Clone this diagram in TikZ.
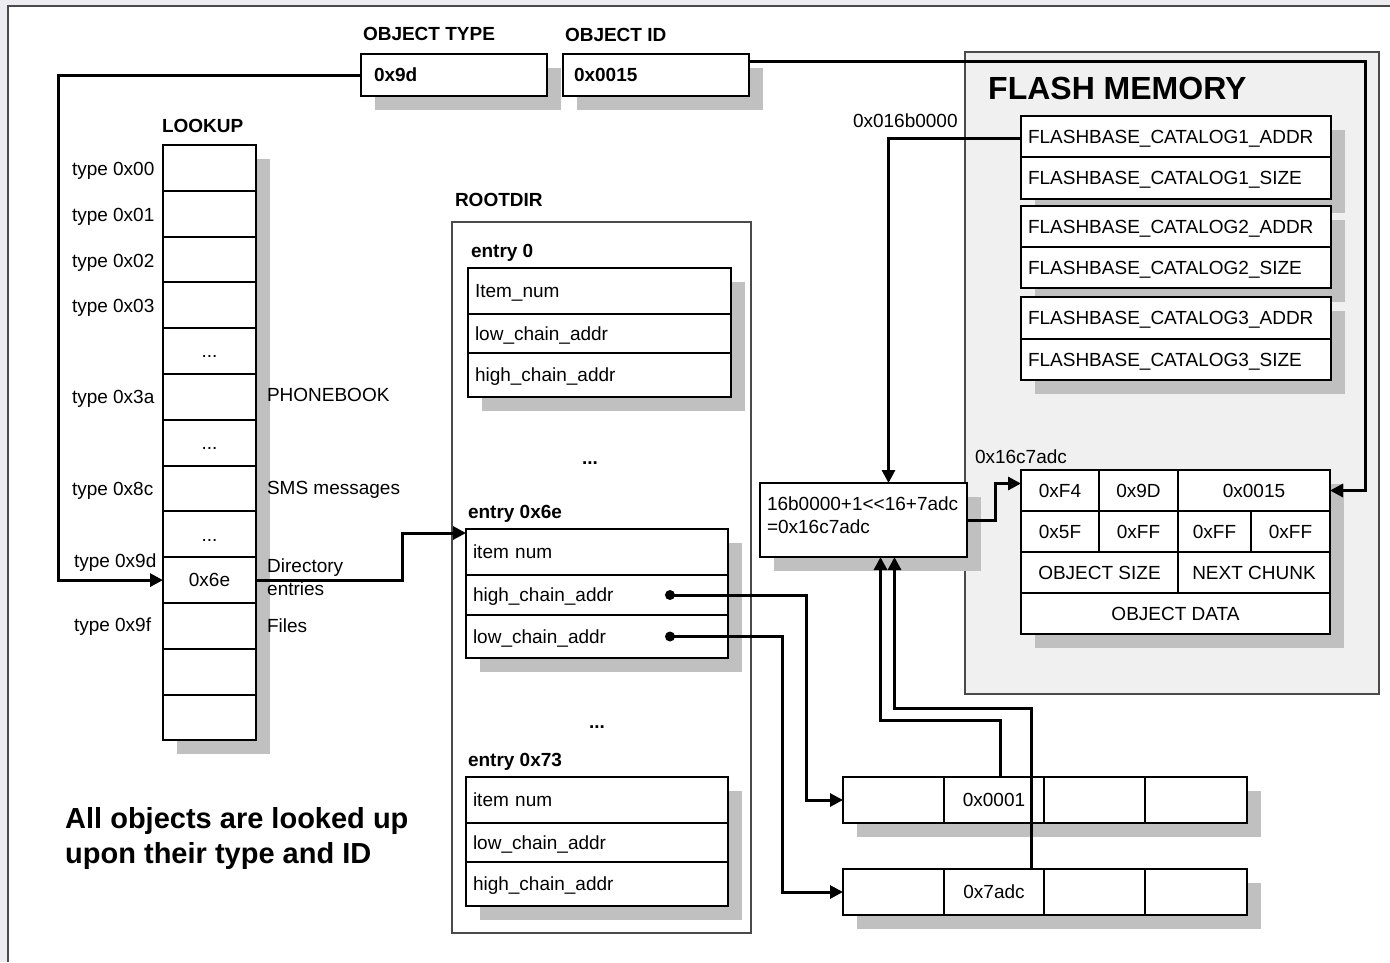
\documentclass[tikz,border=0pt]{standalone}
\usepackage{fontspec}
\setmainfont{Liberation Sans}
\usetikzlibrary{arrows.meta,shadows}
\definecolor{shc}{HTML}{C0C0C0}
\definecolor{panelc}{HTML}{F0F0F0}
\definecolor{bgc}{HTML}{EDEDF1}
\definecolor{framec}{HTML}{4A4A4A}
\begin{document}
\begin{tikzpicture}[x=1pt,y=-1pt,
  ntext/.style={font=\fontsize{19}{23}\selectfont, inner sep=0pt, outer sep=0pt, text height=13.6pt, text depth=0pt},
  bfont/.style={font=\bfseries\fontsize{19}{23}\selectfont},
  btext/.style={ntext, bfont},
  shd/.style={drop shadow={shadow xshift=14pt, shadow yshift=-14pt, fill=shc, opacity=1}},
  cell/.style={draw, line width=2pt, fill=white, anchor=north west, inner sep=0pt, outer sep=0pt, ntext, shd},
  ecell/.style={cell, text width=248pt, inner xsep=7pt, align=left},
  ccell/.style={cell, text width=296pt, inner xsep=7pt, align=left},
  conn/.style={line width=3pt},
  arr/.style={conn, -{Triangle[length=13pt,width=13pt]}},
  dotn/.style={circle, fill=black, inner sep=0pt, minimum size=10pt},
]
\useasboundingbox (0,0) rectangle (1390,962);
% background and frame
\fill[bgc] (0,0) rectangle (1390,962);
\fill[white] (8,6) rectangle (1390,962);
\draw[framec, line width=1.5pt] (8,962) -- (8,6) -- (1390,6);

% flash memory panel and rootdir container
\node[draw=framec, line width=1.3pt, fill=panelc, anchor=north west, inner sep=0pt, outer sep=0pt, minimum width=414pt, minimum height=642pt] (flash) at (965,52) {};
\node[draw=framec, line width=1.3pt, fill=white, anchor=north west, inner sep=0pt, outer sep=0pt, minimum width=299pt, minimum height=711pt] (rootdir) at (452,222) {};

% object type / id
\node[btext, anchor=west] (ottl) at (363,33.5) {OBJECT TYPE};
\node[btext, anchor=west] (oidl) at (565,34.5) {OBJECT ID};
\node[cell, bfont, minimum width=186pt, minimum height=42pt, text width=160pt, inner xsep=13pt, align=left] (typebox) at (361,54) {0x9d};
\node[cell, bfont, minimum width=186pt, minimum height=42pt, text width=164pt, inner xsep=11pt, align=left] (idbox) at (563,54) {0x0015};

% lookup table
\node[btext, anchor=west] (lookupl) at (162,126) {LOOKUP};
\foreach \i/\t in {0/{},1/{},2/{},3/{},4/{...},5/{},6/{...},7/{},8/{...},9/{0x6e},10/{},11/{},12/{}}
  \node[cell, minimum width=93pt, minimum height=45.8pt] (lk\i) at (163,{145+45.8*\i}) {\t};
\node[ntext, anchor=west] (t00) at (72,169) {type 0x00};
\node[ntext, anchor=west] (t01) at (72,215) {type 0x01};
\node[ntext, anchor=west] (t02) at (72,261) {type 0x02};
\node[ntext, anchor=west] (t03) at (72,306) {type 0x03};
\node[ntext, anchor=west] (t3a) at (72,397) {type 0x3a};
\node[ntext, anchor=west] (t8c) at (72,489) {type 0x8c};
\node[ntext, anchor=west] (t9d) at (74,561) {type 0x9d};
\node[ntext, anchor=west] (t9f) at (74,625) {type 0x9f};
\node[ntext, anchor=west] (phone) at (267,395) {PHONEBOOK};
\node[ntext, anchor=west] (sms) at (267,488) {SMS messages};
\node[font=\fontsize{19}{23}\selectfont, align=left, anchor=north west, inner sep=0pt] (dirl) at (267,559) {Directory\\entries};
\node[ntext, anchor=west] (files) at (267,626) {Files};

% rootdir
\node[btext, anchor=west] (rootl) at (455,199.5) {ROOTDIR};
\node[btext, anchor=west] (ent0) at (471,250.5) {entry 0};
\node[ecell, minimum height=46pt, text width=249pt] (e0a) at (468,268) {Item\_num};
\node[ecell, minimum height=39pt, text width=249pt] (e0b) at (468,314) {low\_chain\_addr};
\node[ecell, minimum height=44pt, text width=249pt] (e0c) at (468,353) {high\_chain\_addr};
\node[btext] (dots1) at (590,458) {...};
\node[btext, anchor=west] (ent6e) at (468,511.5) {entry 0x6e};
\node[ecell, minimum height=46pt] (e6a) at (466,529) {item num};
\node[ecell, minimum height=40pt] (e6b) at (466,575) {high\_chain\_addr};
\node[ecell, minimum height=43pt] (e6c) at (466,615) {low\_chain\_addr};
\node[btext] (dots2) at (597,722) {...};
\node[btext, anchor=west] (ent73) at (468,759.5) {entry 0x73};
\node[ecell, minimum height=46pt] (e7a) at (466,777) {item num};
\node[ecell, minimum height=39pt] (e7b) at (466,823) {low\_chain\_addr};
\node[ecell, minimum height=44pt] (e7c) at (466,862) {high\_chain\_addr};

% flash memory
\node[font=\bfseries\fontsize{32}{38}\selectfont, inner sep=0pt, text height=22.9pt, text depth=0pt, anchor=west] (flashl) at (988,88) {FLASH MEMORY};
\node[ntext, anchor=west] (addrl) at (853,121) {0x016b0000};
\node[ccell, minimum height=41pt] (cat1a) at (1021,116) {FLASHBASE\_CATALOG1\_ADDR};
\node[ccell, minimum height=42pt] (cat1b) at (1021,157) {FLASHBASE\_CATALOG1\_SIZE};
\node[ccell, minimum height=41pt] (cat2a) at (1021,206) {FLASHBASE\_CATALOG2\_ADDR};
\node[ccell, minimum height=41pt] (cat2b) at (1021,247) {FLASHBASE\_CATALOG2\_SIZE};
\node[ccell, minimum height=42pt] (cat3a) at (1021,297) {FLASHBASE\_CATALOG3\_ADDR};
\node[ccell, minimum height=41pt] (cat3b) at (1021,339) {FLASHBASE\_CATALOG3\_SIZE};

% object
\node[ntext, anchor=west] (objl) at (975,456.5) {0x16c7adc};
\node[cell, minimum width=78pt, minimum height=41pt] (o11) at (1021,470) {0xF4};
\node[cell, minimum width=79pt, minimum height=41pt] (o12) at (1099,470) {0x9D};
\node[cell, minimum width=152pt, minimum height=41pt] (o13) at (1178,470) {0x0015};
\node[cell, minimum width=78pt, minimum height=41pt] (o21) at (1021,511) {0x5F};
\node[cell, minimum width=79pt, minimum height=41pt] (o22) at (1099,511) {0xFF};
\node[cell, minimum width=73pt, minimum height=41pt] (o23) at (1178,511) {0xFF};
\node[cell, minimum width=79pt, minimum height=41pt] (o24) at (1251,511) {0xFF};
\node[cell, minimum width=157pt, minimum height=41pt] (o31) at (1021,552) {OBJECT SIZE};
\node[cell, minimum width=152pt, minimum height=41pt] (o32) at (1178,552) {NEXT CHUNK};
\node[cell, minimum width=309pt, minimum height=41pt] (o41) at (1021,593) {OBJECT DATA};

% formula
\node[cell, minimum width=207pt, minimum height=74pt, text width=193pt, inner xsep=7pt, align=left, text depth=32.4pt] (formula) at (760,483) {16b0000+1<{}<16+7adc\\=0x16c7adc};

% chain tables
\node[cell, minimum width=101pt, minimum height=46pt] (c1a) at (843,777) {};
\node[cell, minimum width=100pt, minimum height=46pt] (c1b) at (944,777) {0x0001};
\node[cell, minimum width=101pt, minimum height=46pt] (c1c) at (1044,777) {};
\node[cell, minimum width=102pt, minimum height=46pt] (c1d) at (1145,777) {};
\node[cell, minimum width=101pt, minimum height=46pt] (c2a) at (843,869) {};
\node[cell, minimum width=100pt, minimum height=46pt] (c2b) at (944,869) {0x7adc};
\node[cell, minimum width=101pt, minimum height=46pt] (c2c) at (1044,869) {};
\node[cell, minimum width=102pt, minimum height=46pt] (c2d) at (1145,869) {};

% note
\node[font=\bfseries\fontsize{29}{35}\selectfont, align=left, anchor=north west, inner sep=0pt] (note) at (65,807) {All objects are looked up\\upon their type and ID};

% connectors
\draw[arr] (typebox.west) -| ([xshift=-105pt]lk9.west) -- (lk9.west);
\draw[arr] (lk9.east) -| ([xshift=-64pt,yshift=19pt]e6a.west) -- ([yshift=19pt]e6a.west);
\draw[arr] ([yshift=14pt]idbox.east) -| ([xshift=35pt]o13.east) -- (o13.east);
\draw[arr] ([yshift=-2pt]cat1a.west) -| ([xshift=25pt]formula.north);
\draw[arr] (formula.east) -| ([xshift=-26pt,yshift=7pt]o11.west) -- ([yshift=7pt]o11.west);
\node[dotn] (hd) at ([xshift=-58pt]e6b.east) {};
\node[dotn] (ld) at ([xshift=-58pt]e6c.east) {};
\draw[arr] (hd.center) -| ([xshift=-37pt]c1a.west) -- (c1a.west);
\draw[arr] (ld.center) -| ([xshift=-61pt]c2a.west) -- (c2a.west);
\draw[arr] ([xshift=6pt]c1b.north) -- ([xshift=6pt,yshift=57pt]c1b.north) -| ([xshift=17pt]formula.south);
\draw[arr] ([xshift=37pt]c2b.north) -- ([xshift=37pt,yshift=161pt]c2b.north) -| ([xshift=31pt]formula.south);
\end{tikzpicture}
\end{document}
